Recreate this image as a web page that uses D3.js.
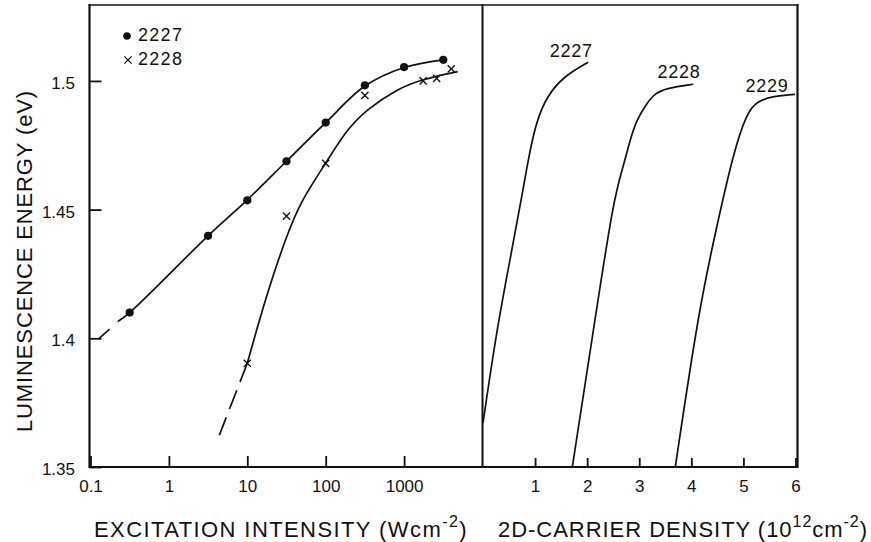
<!DOCTYPE html>
<html>
<head>
<meta charset="utf-8">
<script src="https://cdn.jsdelivr.net/npm/d3@7"></script>
<style>
  html, body { margin: 0; padding: 0; background: #fff; }
  svg { display: block; }
  text { font-family: "Liberation Sans", Arial, sans-serif; fill: #111; }
</style>
</head>
<body>
<svg id="chart" width="871" height="542"></svg>
<script>
// ---- Measured points: luminescence energy (eV) vs excitation intensity (W/cm^2)
const intensity2227 = [0.316, 3.16, 10, 31.6, 100, 316, 1000, 3162];
const energy2227    = [1.4100, 1.4398, 1.4536, 1.4688, 1.4838, 1.4983, 1.5054, 1.5082];
const intensity2228 = [10, 31.6, 100, 316, 1750, 2600, 4000];
const energy2228    = [1.3903, 1.4475, 1.4680, 1.4944, 1.5000, 1.5010, 1.5047];

// ---- Guide curves through the measurements
const fitIntensity2227 = [0.226, 0.316, 3.16, 10, 31.6, 100, 316, 1000, 3162];
const fitEnergy2227    = [1.4066, 1.4100, 1.4398, 1.4538, 1.4688, 1.4838, 1.4980, 1.5052, 1.5082];
const extIntensity2227 = [0.126, 0.226];          // extrapolated (dashed)
const extEnergy2227    = [1.3997, 1.4066];
const fitIntensity2228 = [10, 16.8, 31.6, 49.4, 100, 185, 327, 805, 1730, 4830];
const fitEnergy2228    = [1.3903, 1.4149, 1.4400, 1.4538, 1.4680, 1.4810, 1.4887, 1.4968, 1.5007, 1.5036];
const extIntensity2228 = [10, 4.4];               // extrapolated (dashed)
const extEnergy2228    = [1.3903, 1.3624];

// ---- Luminescence energy vs 2D carrier density (10^12 cm^-2)
const density2227 = [0, 0.263, 0.518, 0.768, 0.902, 1.037, 1.223, 1.542, 2.022];
const densE2227   = [1.3671, 1.4032, 1.4304, 1.4576, 1.4732, 1.4848, 1.4939, 1.5017, 1.5073];
const density2228 = [1.715, 2.120, 2.512, 2.694, 2.823, 2.951, 3.143, 3.303, 3.527, 4.038];
const densE2228   = [1.3500, 1.4032, 1.4549, 1.4667, 1.4771, 1.4849, 1.4913, 1.4952, 1.4972, 1.4987];
const density2229 = [3.692, 4.142, 4.487, 4.806, 5.063, 5.255, 5.574, 5.991];
const densE2229   = [1.3500, 1.4110, 1.4434, 1.4719, 1.4875, 1.4920, 1.4942, 1.4948];
const sampleNames = ["2227", "2228", "2229"];

// ---- Axis ticks
const energyTicks = [1.35, 1.4, 1.45, 1.5];
const energyTickLabels = ["1.35", "1.4", "1.45", "1.5"];
const intensityTicks = [0.1, 1, 10, 100, 1000];
const intensityTickLabels = ["0.1", "1", "10", "100", "1000"];
const densityTicks = [1, 2, 3, 4, 5, 6];
const densityTickLabels = ["1", "2", "3", "4", "5", "6"];

const zip = (xs, ys) => xs.map((x, i) => [x, ys[i]]);

const svg = d3.select("#chart");
const ink = "#111";

// Scales (shared energy axis, two x panels)
const yE = d3.scaleLinear().domain([1.35, 1.5295]).range([467, 5]);
const xI = d3.scaleLog().domain([0.1, 1e4]).range([90.5, 482.5]);
const xN = d3.scaleLinear().domain([0, 6]).range([483, 795.5]);

const frameL = 89.5, frameR = 797.5, frameT = yE.range()[1], frameB = yE.range()[0];
const divider = xI.range()[1];

// Frame and panel divider
const frame = svg.append("g").attr("stroke", ink).attr("fill", "none").attr("stroke-linecap", "square");
frame.append("path").attr("stroke-width", 2.2)
  .attr("d", `M${frameL},${frameT}V${frameB}H${frameR}V${frameT}`);
frame.append("path").attr("stroke-width", 1.6)
  .attr("d", `M${frameL},${frameT}H${frameR}`);
frame.append("path").attr("stroke-width", 2)
  .attr("d", `M${divider},${frameT}V${frameB}`);

function styleAxis(g, size) {
  g.select(".domain").remove();
  g.attr("font-family", null).attr("font-size", null);
  g.selectAll(".tick line").attr("stroke", ink).attr("stroke-width", 1.8);
  g.selectAll(".tick text").attr("font-size", size).attr("fill", ink);
}

// Left energy axis (inward ticks)
svg.append("g").attr("transform", `translate(${frameL},0)`)
  .call(d3.axisLeft(yE).tickValues(energyTicks)
    .tickFormat((d, i) => energyTickLabels[i])
    .tickSizeInner(-12).tickSizeOuter(0).tickPadding(14.5))
  .call(g => styleAxis(g, 17))
  .call(g => g.selectAll(".tick text").attr("dy", "0.45em"));

// Excitation intensity axis
svg.append("g").attr("transform", `translate(0,${frameB})`)
  .call(d3.axisBottom(xI).tickValues(intensityTicks)
    .tickFormat((d, i) => intensityTickLabels[i])
    .tickSizeInner(-11).tickSizeOuter(0).tickPadding(13))
  .call(g => styleAxis(g, 17));

// Carrier density axis
svg.append("g").attr("transform", `translate(0,${frameB})`)
  .call(d3.axisBottom(xN).tickValues(densityTicks)
    .tickFormat((d, i) => densityTickLabels[i])
    .tickSizeInner(-9).tickSizeOuter(0).tickPadding(13))
  .call(g => styleAxis(g, 17));

// Curves
const through = d3.curveCatmullRom.alpha(0.5);   // passes through every point
const smooth = d3.curveBasis;                     // smoothed guide
const lineI = (c) => d3.line().x(d => xI(d[0])).y(d => yE(d[1])).curve(c);
const lineN = d3.line().x(d => xN(d[0])).y(d => yE(d[1])).curve(smooth);

const curves = svg.append("g").attr("fill", "none").attr("stroke", ink)
  .attr("stroke-width", 1.7).attr("stroke-linecap", "butt");

curves.append("path").attr("d", lineI(through)(zip(fitIntensity2227, fitEnergy2227)));
curves.append("path").attr("d", lineI(smooth)(zip(fitIntensity2228, fitEnergy2228)));
curves.append("path").attr("d", lineI(through)(zip(extIntensity2227, extEnergy2227)))
  .attr("stroke-dasharray", "15,11");
curves.append("path").attr("d", lineI(through)(zip(extIntensity2228, extEnergy2228)))
  .attr("stroke-dasharray", "20,9");

[[density2227, densE2227], [density2228, densE2228], [density2229, densE2229]]
  .forEach(([xs, ys]) => curves.append("path").attr("d", lineN(zip(xs, ys))));

// Markers
const crossPath = (r) => `M${-r},${-r}L${r},${r}M${-r},${r}L${r},${-r}`;

svg.append("g").selectAll("circle")
  .data(zip(intensity2227, energy2227)).join("circle")
  .attr("cx", d => xI(d[0])).attr("cy", d => yE(d[1])).attr("r", 4.1)
  .attr("fill", ink);

svg.append("g").selectAll("path")
  .data(zip(intensity2228, energy2228)).join("path")
  .attr("transform", d => `translate(${xI(d[0])},${yE(d[1])})`)
  .attr("d", crossPath(3.6))
  .attr("stroke", ink).attr("stroke-width", 1.4).attr("fill", "none");

// Legend
const legend = svg.append("g");
legend.append("circle").attr("cx", 127).attr("cy", 36).attr("r", 3.8).attr("fill", ink);
legend.append("path").attr("transform", "translate(128,60)").attr("d", crossPath(3.6))
  .attr("stroke", ink).attr("stroke-width", 1.3).attr("fill", "none");
legend.append("text").attr("x", 138).attr("y", 40.5).attr("font-size", 18)
  .attr("letter-spacing", 1.3).text(sampleNames[0]);
legend.append("text").attr("x", 138).attr("y", 64.5).attr("font-size", 18)
  .attr("letter-spacing", 1.3).text(sampleNames[1]);

// Sample labels on the density curves
const labelAt = [[1.695, 1.5094], [3.763, 1.5011], [5.453, 1.4956]];
svg.append("g").selectAll("text")
  .data(sampleNames).join("text")
  .attr("x", (d, i) => xN(labelAt[i][0])).attr("y", (d, i) => yE(labelAt[i][1]))
  .attr("text-anchor", "middle").attr("font-size", 18).attr("letter-spacing", 0.7)
  .text(d => d);

// Axis titles
function spreadTo(sel, target) {
  const n = sel.text().length;
  const w = sel.node().getComputedTextLength();
  sel.attr("letter-spacing", ((target - w) / n).toFixed(2));
}
function title(parts, x, y, target, rotate) {
  const t = svg.append("text").attr("font-size", 22)
    .attr("transform", rotate ? `translate(${x},${y}) rotate(-90)` : `translate(${x},${y})`);
  let raised = false;
  parts.forEach(p => {
    const sup = p.startsWith("^");
    const s = t.append("tspan").text(sup ? p.slice(1) : p);
    if (sup) { s.attr("font-size", 16).attr("dy", -10); raised = true; }
    else if (raised) { s.attr("dy", 10); raised = false; }
  });
  spreadTo(t, target);
  return t;
}
title(["EXCITATION INTENSITY (Wcm", "^-2", ")"], 94, 536.7, 374, false);
title(["2D-CARRIER DENSITY (10", "^12", "cm", "^-2", ")"], 498, 536.7, 370, false);
title(["LUMINESCENCE ENERGY (eV)"], 32, 432, 342, true);
</script>
</body>
</html>
